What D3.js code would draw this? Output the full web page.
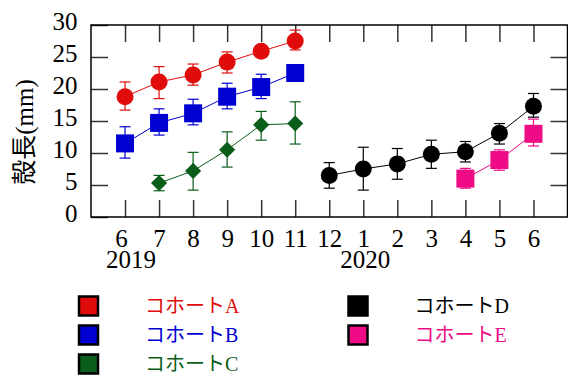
<!DOCTYPE html>
<html lang="ja">
<head>
<meta charset="utf-8">
<title>殻長</title>
<script src="https://cdn.jsdelivr.net/npm/d3@7"></script>
<style>
  body { margin: 0; background: #fff; }
  svg { display: block; }
</style>
</head>
<body>
<svg id="chart" width="568" height="376"></svg>
<script>
// months from 2019-06 to 2020-06
var monthLabels = ['6', '7', '8', '9', '10', '11', '12', '1', '2', '3', '4', '5', '6'];
var yearLabels = ['2019', '2020'];
var yearAt = [0, 7];
var yTicks = [0, 5, 10, 15, 20, 25, 30];

var cohortNames = ['コホートA', 'コホートB', 'コホートC', 'コホートD', 'コホートE'];
var cohortColors = ['#e00b0b', '#0000d0', '#0b5e1a', '#000000', '#ef0a86'];
var cohortShapes = ['circle', 'square', 'diamond', 'circle', 'square'];
var cohortStart = [0, 0, 1, 6, 10];

var meanA = [18.8, 21.1, 22.2, 24.2, 25.9, 27.5];
var hiA   = [21.1, 23.5, 23.9, 25.8, 26.7, 29.2];
var loA   = [16.7, 18.5, 20.6, 22.5, 25.1, 26.1];

var meanB = [11.5, 14.7, 16.2, 18.8, 20.3, 22.5];
var hiB   = [14.1, 16.9, 18.4, 20.9, 22.3, 23.2];
var loB   = [9.2, 12.8, 14.4, 16.9, 18.5, 21.8];

var meanC = [5.3, 7.2, 10.5, 14.4, 14.6];
var hiC   = [6.5, 10.1, 13.3, 16.5, 18.0];
var loC   = [4.1, 4.2, 7.8, 12.0, 11.4];

var meanD = [6.5, 7.5, 8.3, 9.8, 10.2, 13.1, 17.3];
var hiD   = [8.5, 10.9, 10.7, 12.0, 11.8, 14.6, 19.3];
var loD   = [4.5, 4.2, 5.9, 7.6, 8.6, 11.4, 15.6];

var meanE = [6.0, 8.9, 13.0];
var hiE   = [7.6, 10.5, 15.3];
var loE   = [4.5, 7.3, 11.1];

var means = [meanA, meanB, meanC, meanD, meanE];
var his = [hiA, hiB, hiC, hiD, hiE];
var los = [loA, loB, loC, loD, loE];

var FONT = '"Liberation Serif", "Times New Roman", "Noto Sans CJK JP", serif';

var svg = d3.select('#chart');
var pLeft = 91, pRight = 567.5, pTop = 25, pBottom = 217;

var x = d3.scaleLinear().domain([-1, 13]).range([pLeft, pRight]);
var y = d3.scaleLinear().domain([0, 30]).range([pBottom, pTop]);
var idx = d3.range(monthLabels.length);

// axes (ticks point inward)
var gx = svg.append('g')
    .attr('transform', 'translate(0,' + pBottom + ')')
    .call(d3.axisBottom(x).tickValues(idx).tickFormat(function(i) { return monthLabels[i]; })
        .tickSizeInner(-17).tickSizeOuter(0).tickPadding(12.3));
svg.append('g')
    .attr('transform', 'translate(0,' + pTop + ')')
    .call(d3.axisTop(x).tickValues(idx).tickFormat('').tickSizeInner(-17).tickSizeOuter(0));
var gy = svg.append('g')
    .attr('transform', 'translate(' + pLeft + ',0)')
    .call(d3.axisLeft(y).tickValues(yTicks).tickSizeInner(-17).tickSizeOuter(0).tickPadding(13.5));
svg.append('g')
    .attr('transform', 'translate(' + pRight + ',0)')
    .call(d3.axisRight(y).tickValues(yTicks.slice(1, -1)).tickFormat('').tickSizeInner(-17).tickSizeOuter(0));

svg.selectAll('.domain').remove();
svg.selectAll('g').attr('font-family', FONT);
svg.selectAll('.tick line').attr('stroke', '#333').attr('stroke-width', 1.5);
svg.selectAll('.tick text').attr('font-size', 25).attr('font-family', FONT).attr('fill', '#000');
gy.selectAll('.tick text').attr('dy', '0.18em');
gx.selectAll('.tick text').filter(function(d) { return d == 0; }).attr('dx', -4);

gx.selectAll('.year')
    .data(yearLabels)
    .enter().append('text')
    .attr('class', 'year')
    .attr('x', function(d, i) { return x(yearAt[i]) + (i == 0 ? 6 : 2); })
    .attr('y', 268 - pBottom)
    .attr('text-anchor', 'middle')
    .attr('font-size', 25)
    .attr('font-family', FONT)
    .attr('fill', '#000')
    .text(function(d) { return d; });

svg.append('rect')
    .attr('x', pLeft).attr('y', pTop)
    .attr('width', pRight - pLeft).attr('height', pBottom - pTop)
    .attr('fill', 'none').attr('stroke', '#000').attr('stroke-width', 1.5);

svg.append('text')
    .attr('transform', 'translate(33,' + 132 + ') rotate(-90)')
    .attr('text-anchor', 'middle')
    .attr('font-size', 25)
    .attr('font-family', FONT)
    .text('殻長(mm)');

// series
var line = d3.line().x(function(d) { return x(d.i); }).y(function(d) { return y(d.v); });

function marker(sel, shape, color) {
    if (shape == 'circle') {
        sel.append('circle').attr('r', 8.5).attr('fill', color);
    } else if (shape == 'square') {
        sel.append('rect').attr('x', -9).attr('y', -9).attr('width', 18).attr('height', 18).attr('fill', color);
    } else {
        sel.append('path').attr('d', d3.symbol(d3.symbolSquare, 130)()).attr('transform', 'rotate(45)').attr('fill', color);
    }
}

for (var s = 0; s < means.length; s++) {
    var pts = means[s].map(function(v, k) {
        return {i: cohortStart[s] + k, v: v, hi: his[s][k], lo: los[s][k]};
    });
    var color = cohortColors[s];
    var g = svg.append('g');

    g.append('path').datum(pts).attr('d', line)
        .attr('fill', 'none').attr('stroke', color).attr('stroke-width', 1);

    var eb = g.selectAll('.err').data(pts).enter().append('g').attr('class', 'err')
        .attr('stroke', color).attr('stroke-width', 1.2);
    eb.append('line')
        .attr('x1', function(d) { return x(d.i); }).attr('x2', function(d) { return x(d.i); })
        .attr('y1', function(d) { return y(d.hi); }).attr('y2', function(d) { return y(d.lo); });
    eb.append('line')
        .attr('x1', function(d) { return x(d.i) - 5.5; }).attr('x2', function(d) { return x(d.i) + 5.5; })
        .attr('y1', function(d) { return y(d.hi); }).attr('y2', function(d) { return y(d.hi); });
    eb.append('line')
        .attr('x1', function(d) { return x(d.i) - 5.5; }).attr('x2', function(d) { return x(d.i) + 5.5; })
        .attr('y1', function(d) { return y(d.lo); }).attr('y2', function(d) { return y(d.lo); });

    var mk = g.selectAll('.mk').data(pts).enter().append('g').attr('class', 'mk')
        .attr('transform', function(d) { return 'translate(' + x(d.i) + ',' + y(d.v) + ')'; });
    marker(mk, cohortShapes[s], color);
}

// legend
var legend = svg.selectAll('.legend')
    .data(cohortNames)
    .enter().append('g')
    .attr('class', 'legend')
    .attr('transform', function(d, i) {
        var col = i < 3 ? 0 : 1;
        var row = i < 3 ? i : i - 3;
        return 'translate(' + (col ? 358 : 88.5) + ',' + (306 + row * 29) + ')';
    });
legend.append('rect')
    .attr('x', -9.5).attr('y', -9.5).attr('width', 19).attr('height', 19)
    .attr('fill', function(d, i) { return cohortColors[i]; })
    .attr('stroke', '#000').attr('stroke-width', 2.5);
legend.append('text')
    .attr('x', 56.5)
    .attr('y', 7)
    .attr('font-size', 20)
    .attr('font-family', FONT)
    .attr('fill', function(d, i) { return cohortColors[i]; })
    .text(function(d) { return d; });
</script>
</body>
</html>
